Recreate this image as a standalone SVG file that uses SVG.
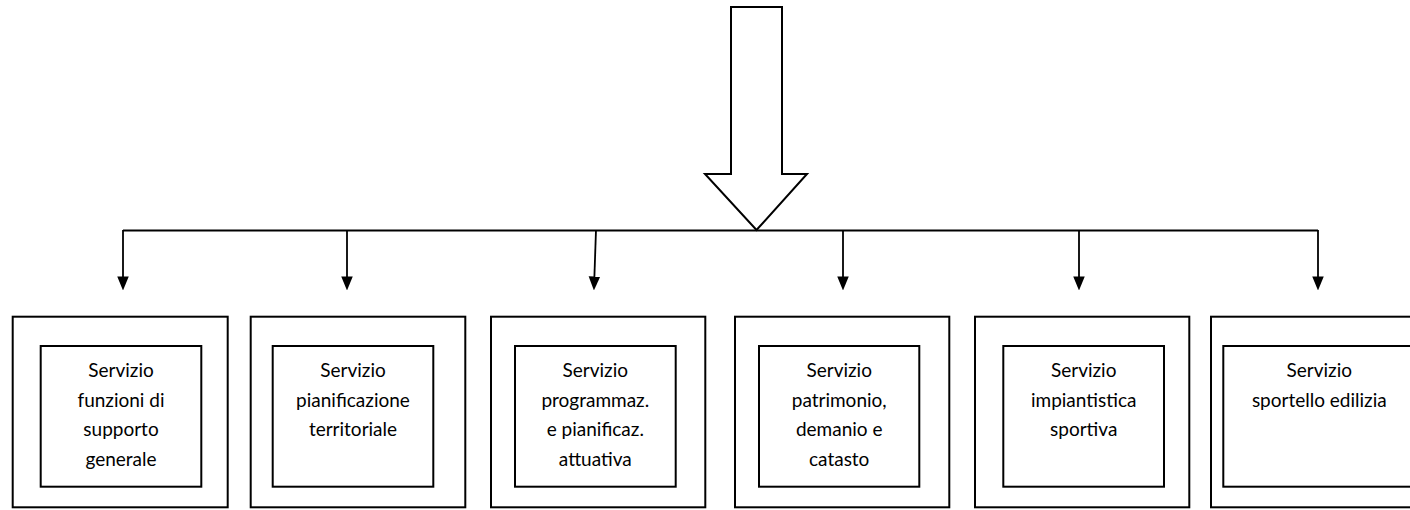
<svg xmlns="http://www.w3.org/2000/svg" width="1410" height="510" viewBox="0 0 1410 510">
<style>
.box{fill:#fff;stroke:#000;stroke-width:2}
.conn{fill:none;stroke:#000;stroke-width:1.8}
.lbl{font-family:Lato,"Open Sans","Liberation Sans",sans-serif;font-size:19px;fill:#000;text-anchor:middle}
</style>
<defs>
<marker id="ah" markerUnits="userSpaceOnUse" markerWidth="14" markerHeight="17" refX="14" refY="7" orient="auto" viewBox="0 0 17 14">
<path d="M0,0 L17,7 L0,14 Z" fill="#000"/>
</marker>
</defs>
<rect width="1410" height="510" fill="#fff"/>
<g id="main-arrow">
<polygon class="box" points="731,7 782,7 782,174 807,174 756.5,230 705,174 731,174"/>
</g>
<g id="connectors">
<line class="conn" x1="123" y1="230.5" x2="1318" y2="230.5"/>
<line class="conn" x1="123" y1="230" x2="123" y2="288" marker-end="url(#ah)"/>
<line class="conn" x1="347" y1="230" x2="347" y2="288" marker-end="url(#ah)"/>
<line class="conn" x1="596" y1="230" x2="594" y2="288" marker-end="url(#ah)"/>
<line class="conn" x1="843" y1="230" x2="843" y2="288" marker-end="url(#ah)"/>
<line class="conn" x1="1079" y1="230" x2="1079" y2="288" marker-end="url(#ah)"/>
<line class="conn" x1="1318" y1="230" x2="1318" y2="288" marker-end="url(#ah)"/>
</g>
<g id="node1">
<rect class="box" x="12.7" y="316.7" width="215" height="190.6"/>
<rect class="box" x="40.7" y="346" width="160.6" height="140.7"/>
<text class="lbl" x="121"><tspan x="121" y="377">Servizio</tspan><tspan x="121" y="407">funzioni di</tspan><tspan x="121" y="436">supporto</tspan><tspan x="121" y="466">generale</tspan></text>
</g>
<g id="node2">
<rect class="box" x="250.7" y="316.7" width="214.6" height="190.6"/>
<rect class="box" x="272.7" y="346" width="160.6" height="140.7"/>
<text class="lbl"><tspan x="353" y="377">Servizio</tspan><tspan x="353" y="407">pianificazione</tspan><tspan x="353" y="436">territoriale</tspan></text>
</g>
<g id="node3">
<rect class="box" x="491" y="316.7" width="214.3" height="190.6"/>
<rect class="box" x="515" y="346" width="160.7" height="140.7"/>
<text class="lbl"><tspan x="595.3" y="377">Servizio</tspan><tspan x="595.3" y="407">programmaz.</tspan><tspan x="595.3" y="436">e pianificaz.</tspan><tspan x="595.3" y="466">attuativa</tspan></text>
</g>
<g id="node4">
<rect class="box" x="735" y="316.7" width="214.3" height="190.6"/>
<rect class="box" x="759" y="346" width="160.3" height="140.7"/>
<text class="lbl"><tspan x="839.2" y="377">Servizio</tspan><tspan x="839.2" y="407">patrimonio,</tspan><tspan x="839.2" y="436">demanio e</tspan><tspan x="839.2" y="466">catasto</tspan></text>
</g>
<g id="node5">
<rect class="box" x="975" y="316.7" width="214.3" height="190.6"/>
<rect class="box" x="1003.3" y="346" width="160.7" height="140.7"/>
<text class="lbl"><tspan x="1083.7" y="377">Servizio</tspan><tspan x="1083.7" y="407">impiantistica</tspan><tspan x="1083.7" y="436">sportiva</tspan></text>
</g>
<g id="node6">
<rect class="box" x="1211" y="316.7" width="230" height="190.6"/>
<rect class="box" x="1223.3" y="346" width="200" height="140.7"/>
<text class="lbl"><tspan x="1319.3" y="377">Servizio</tspan><tspan x="1319.3" y="407">sportello edilizia</tspan></text>
</g>
</svg>
